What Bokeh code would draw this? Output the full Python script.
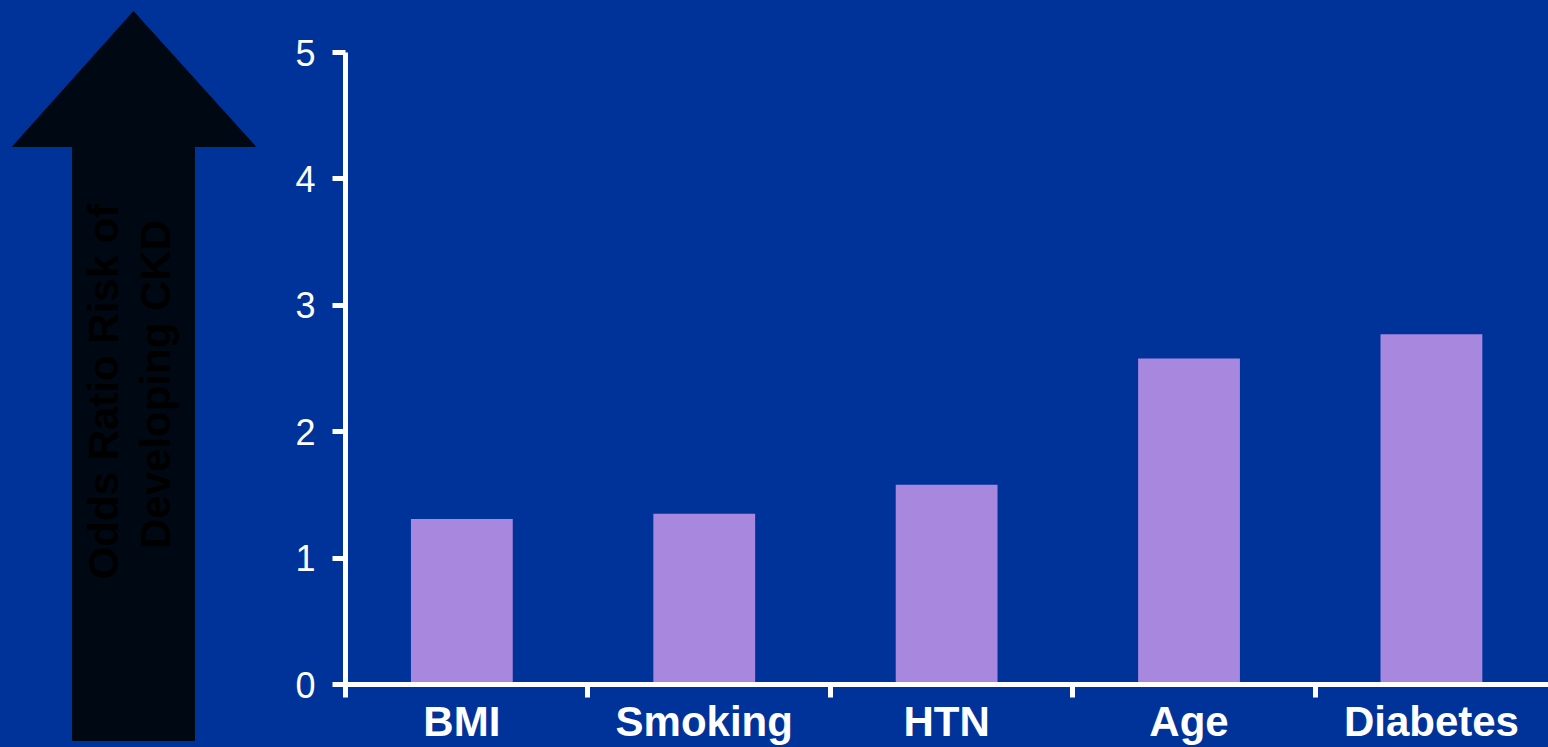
from math import pi
from bokeh.plotting import figure
from bokeh.layouts import row
from bokeh.models import Range1d, FixedTicker, LinearAxis
from bokeh.core.properties import value
from bokeh.embed import file_html
from bokeh.resources import INLINE

# ---- data ----
categories = ["BMI", "Smoking", "HTN", "Age", "Diabetes"]
odds_ratio = [1.31, 1.35, 1.58, 2.58, 2.77]
y_ticks = [0, 1, 2, 3, 4, 5]
arrow_lines = ["Odds Ratio Risk of", "Developing CKD"]

BG = "#003399"
BAR = "#A887DE"
ARROW = "#000814"
FONT = value("Liberation Sans")

W_LEFT = 260
H = 747
FRAME_TOP = 52
FRAME_BOTTOM = 684

# ---- left panel: arrow with rotated label ----
left = figure(width=W_LEFT, height=H, x_range=Range1d(0, W_LEFT),
              y_range=Range1d(FRAME_BOTTOM, FRAME_TOP),
              output_backend="svg", toolbar_location=None,
              min_border=0, min_border_left=0, min_border_right=0,
              min_border_top=FRAME_TOP, min_border_bottom=H - FRAME_BOTTOM)
left.axis.visible = False
left.grid.visible = False
left.outline_line_color = None
left.background_fill_color = None
left.border_fill_color = None

arrow_x = [133, 255, 194, 194, 72, 72, 12]
arrow_y = [11, 146, 146, 740, 740, 146, 146]
arr = left.patch(arrow_x, arrow_y, fill_color=ARROW, line_color=ARROW)
arr.level = "overlay"
txt = left.text(x=[103, 155], y=[391, 384], text=arrow_lines, angle=pi / 2,
                text_align="center", text_baseline="alphabetic",
                text_font=FONT, text_font_style="bold", text_font_size="42px", text_color="black")
txt.level = "overlay"

# ---- chart ----
n = len(categories)
centers = [i + 0.48 for i in range(n)]
bounds = [float(i) for i in range(n + 1)]

p = figure(width=1548 - W_LEFT, height=H, x_range=Range1d(0, 4.963), y_range=Range1d(0, 5),
           output_backend="svg", toolbar_location=None, x_axis_location=None, y_axis_location=None,
           min_border_left=345 - W_LEFT, min_border_right=0,
           min_border_top=FRAME_TOP, min_border_bottom=H - FRAME_BOTTOM)
p.grid.visible = False
p.outline_line_color = None
p.background_fill_color = None
p.border_fill_color = None

p.vbar(x=centers, top=odds_ratio, bottom=0, width=0.42, fill_color=BAR, line_color=None)

yaxis = LinearAxis(ticker=FixedTicker(ticks=y_ticks))
yaxis.axis_line_color = "white"
yaxis.axis_line_width = 5
yaxis.major_tick_line_color = "white"
yaxis.major_tick_line_width = 5
yaxis.major_tick_out = 13
yaxis.major_tick_in = 0
yaxis.minor_tick_line_color = None
yaxis.major_label_text_color = "white"
yaxis.major_label_text_font = "Liberation Sans"
yaxis.major_label_text_font_size = "36px"
yaxis.major_label_standoff = 17
p.add_layout(yaxis, "left")

xaxis = LinearAxis(ticker=FixedTicker(ticks=centers, minor_ticks=bounds))
xaxis.major_label_overrides = {c: name for c, name in zip(centers, categories)}
xaxis.axis_line_color = "white"
xaxis.axis_line_width = 5
xaxis.major_tick_line_color = None
xaxis.major_tick_out = 0
xaxis.major_tick_in = 0
xaxis.minor_tick_line_color = "white"
xaxis.minor_tick_line_width = 5
xaxis.minor_tick_out = 13
xaxis.minor_tick_in = 0
xaxis.major_label_text_color = "white"
xaxis.major_label_text_font = "Liberation Sans"
xaxis.major_label_text_font_style = "bold"
xaxis.major_label_text_font_size = "42px"
xaxis.major_label_standoff = 0
p.add_layout(xaxis, "below")

layout = row(left, p, spacing=0, styles={"background-color": BG})
open("out.html", "w").write(file_html(layout, INLINE))
